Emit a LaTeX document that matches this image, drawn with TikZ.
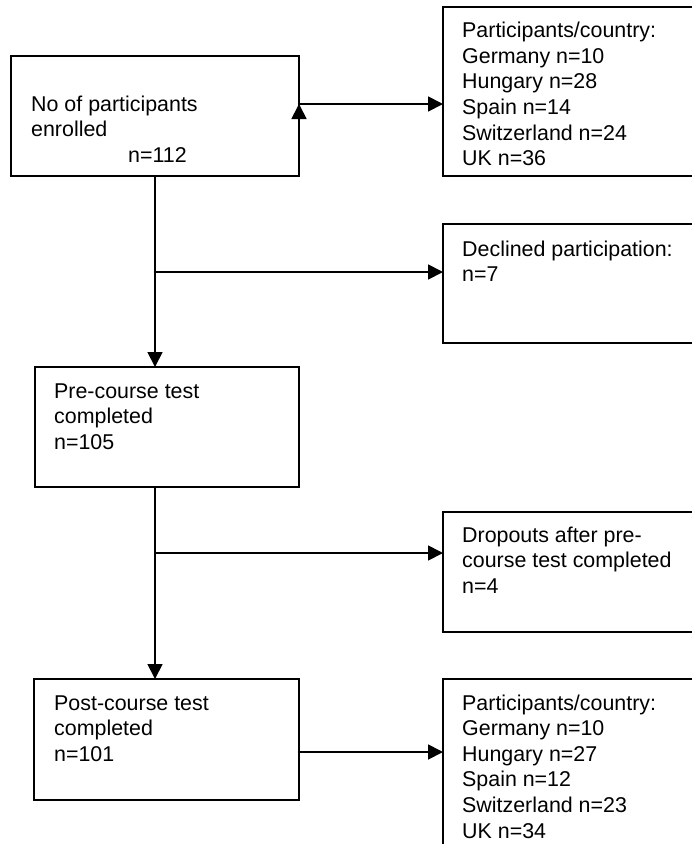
\documentclass[tikz,border=0pt]{standalone}
\usepackage{fontspec}
\setmainfont{Liberation Sans}
\usetikzlibrary{arrows.meta,calc}
\begin{document}
\begin{tikzpicture}[x=1pt,y=-1pt,
  box/.style={draw, line width=1.8pt, rectangle, anchor=north west, inner sep=0pt, outer sep=0pt},
  txt/.style={anchor=base west, inner sep=0pt, font=\fontsize{21.4}{25.6}\selectfont},
  arr/.style={line width=1.8pt, -{Triangle[length=15pt,width=15pt]}},
  ln/.style={line width=1.8pt}]
\useasboundingbox (0,0) rectangle (692,844);
\clip (0,0) rectangle (692,844);
% boxes
\node[box, minimum width=288pt, minimum height=120pt] (b1) at (11,56) {};
\node[box, minimum width=270pt, minimum height=169pt] (b2) at (443,7) {};
\node[box, minimum width=270pt, minimum height=119pt] (b3) at (443,224) {};
\node[box, minimum width=264pt, minimum height=120pt] (b4) at (35,367) {};
\node[box, minimum width=270pt, minimum height=120pt] (b5) at (443,512) {};
\node[box, minimum width=265pt, minimum height=121pt] (b6) at (34,679) {};
\node[box, minimum width=270pt, minimum height=200pt] (b7) at (443,679) {};
% texts
\node[txt] (t1) at (31,111) {\begin{tabular}[t]{@{}l@{}}No of participants\\ enrolled\\ \hspace{97pt}n=112\end{tabular}};
\node[txt] (t2) at (462,37.7) {\begin{tabular}[t]{@{}l@{}}Participants/country:\\ Germany n=10\\ Hungary n=28\\ Spain n=14\\ Switzerland n=24\\ UK n=36\end{tabular}};
\node[txt] (t3) at (462,256) {\begin{tabular}[t]{@{}l@{}}Declined participation:\\ n=7\end{tabular}};
\node[txt] (t4) at (54,398) {\begin{tabular}[t]{@{}l@{}}Pre-course test\\ completed\\ n=105\end{tabular}};
\node[txt] (t5) at (462,542) {\begin{tabular}[t]{@{}l@{}}Dropouts after pre-\\ course test completed\\ n=4\end{tabular}};
\node[txt] (t6) at (54,710) {\begin{tabular}[t]{@{}l@{}}Post-course test\\ completed\\ n=101\end{tabular}};
\node[txt] (t7) at (462,710) {\begin{tabular}[t]{@{}l@{}}Participants/country:\\ Germany n=10\\ Hungary n=27\\ Spain n=12\\ Switzerland n=23\\ UK n=34\end{tabular}};
% connectors
\coordinate (j1) at ($(b1.north east)+(0,48)$);
\coordinate (u1) at ($(j1)+(0,17)$);
\coordinate (j2) at ($(b1.south)+(0,96)$);
\coordinate (j3) at ($(b1.south)+(0,377)$);
\coordinate (j4) at ($(b6.north east)+(0,73)$);
\draw[arr] (j1) -- (j1 -| b2.west);
\draw[arr] (u1) -- (j1);
\draw[arr] (b1.south) -- (b1.south |- b4.north);
\draw[arr] (j2) -- (j2 -| b3.west);
\draw[arr] (b1.south |- b4.south) -- (b1.south |- b6.north);
\draw[arr] (j3) -- (j3 -| b5.west);
\draw[arr] (j4) -- (j4 -| b7.west);
\end{tikzpicture}
\end{document}
